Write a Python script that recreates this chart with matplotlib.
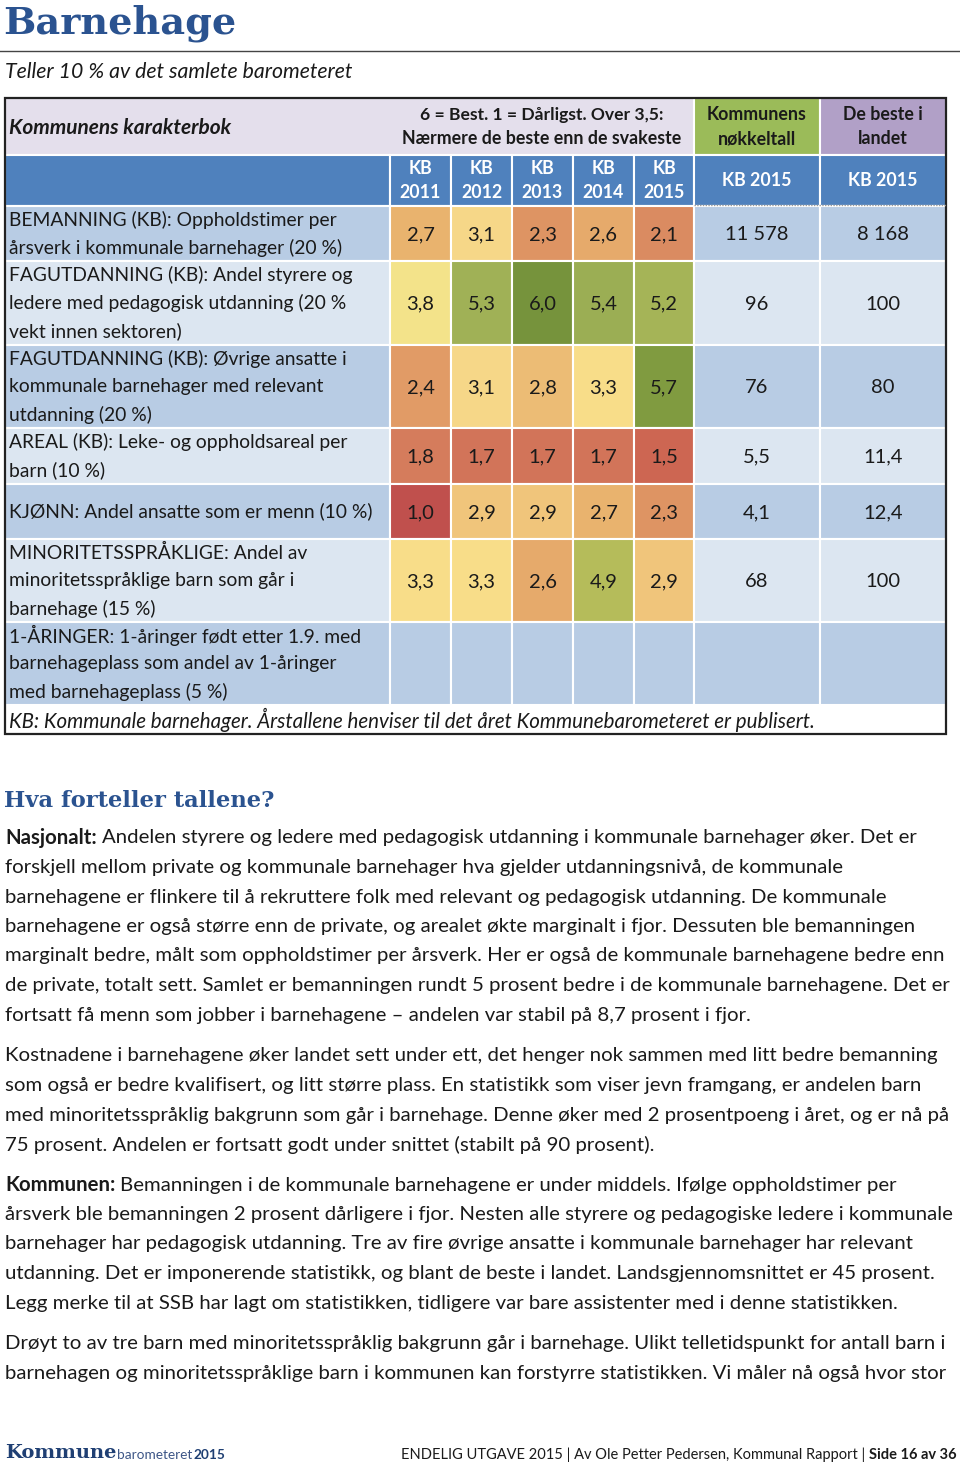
import numpy as np
import matplotlib
matplotlib.use("Agg")
import matplotlib.pyplot as plt
from matplotlib.patches import Rectangle
from matplotlib.colors import LinearSegmentedColormap

# ---- data ----
years = [2011, 2012, 2013, 2014, 2015]
row_labels = [
    ["BEMANNING (KB): Oppholdstimer per", "årsverk i kommunale barnehager (20 %)"],
    ["FAGUTDANNING (KB): Andel styrere og", "ledere med pedagogisk utdanning (20 %", "vekt innen sektoren)"],
    ["FAGUTDANNING (KB): Øvrige ansatte i", "kommunale barnehager med relevant", "utdanning (20 %)"],
    ["AREAL (KB): Leke- og oppholdsareal per", "barn (10 %)"],
    ["KJØNN: Andel ansatte som er menn (10 %)"],
    ["MINORITETSSPRÅKLIGE: Andel av", "minoritetsspråklige barn som går i", "barnehage (15 %)"],
    ["1-ÅRINGER: 1-åringer født etter 1.9. med", "barnehageplass som andel av 1-åringer", "med barnehageplass (5 %)"],
]
grades = [
    [2.7, 3.1, 2.3, 2.6, 2.1],
    [3.8, 5.3, 6.0, 5.4, 5.2],
    [2.4, 3.1, 2.8, 3.3, 5.7],
    [1.8, 1.7, 1.7, 1.7, 1.5],
    [1.0, 2.9, 2.9, 2.7, 2.3],
    [3.3, 3.3, 2.6, 4.9, 2.9],
    [None, None, None, None, None],
]
key_figures = ["11 578", "96", "76", "5,5", "4,1", "68", ""]
best_in_country = ["8 168", "100", "80", "11,4", "12,4", "100", ""]

paragraphs = [
    [("Nasjonalt:", "Andelen styrere og ledere med pedagogisk utdanning i kommunale barnehager øker. Det er"),
     "forskjell mellom private og kommunale barnehager hva gjelder utdanningsnivå, de kommunale",
     "barnehagene er flinkere til å rekruttere folk med relevant og pedagogisk utdanning. De kommunale",
     "barnehagene er også større enn de private, og arealet økte marginalt i fjor. Dessuten ble bemanningen",
     "marginalt bedre, målt som oppholdstimer per årsverk. Her er også de kommunale barnehagene bedre enn",
     "de private, totalt sett. Samlet er bemanningen rundt 5 prosent bedre i de kommunale barnehagene. Det er",
     "fortsatt få menn som jobber i barnehagene – andelen var stabil på 8,7 prosent i fjor."],
    ["Kostnadene i barnehagene øker landet sett under ett, det henger nok sammen med litt bedre bemanning",
     "som også er bedre kvalifisert, og litt større plass. En statistikk som viser jevn framgang, er andelen barn",
     "med minoritetsspråklig bakgrunn som går i barnehage. Denne øker med 2 prosentpoeng i året, og er nå på",
     "75 prosent. Andelen er fortsatt godt under snittet (stabilt på 90 prosent)."],
    [("Kommunen:", "Bemanningen i de kommunale barnehagene er under middels. Ifølge oppholdstimer per"),
     "årsverk ble bemanningen 2 prosent dårligere i fjor. Nesten alle styrere og pedagogiske ledere i kommunale",
     "barnehager har pedagogisk utdanning. Tre av fire øvrige ansatte i kommunale barnehager har relevant",
     "utdanning. Det er imponerende statistikk, og blant de beste i landet. Landsgjennomsnittet er 45 prosent.",
     "Legg merke til at SSB har lagt om statistikken, tidligere var bare assistenter med i denne statistikken."],
    ["Drøyt to av tre barn med minoritetsspråklig bakgrunn går i barnehage. Ulikt telletidspunkt for antall barn i",
     "barnehagen og minoritetsspråklige barn i kommunen kan forstyrre statistikken. Vi måler nå også hvor stor"],
]

# ---- layout / style ----
BODY = "Lato"
SERIF = "DejaVu Serif"
TXT = "#1a1a1a"
TITLE_BLUE = "#2b5390"
HEAD_BLUE = "#4f81bd"
ROW_DARK = "#b8cce4"
ROW_LIGHT = "#dce6f1"

grade_cmap = LinearSegmentedColormap.from_list("grades", [
    (0.0, "#c0504d"), (0.1, "#cd6652"), (0.16, "#d57d5d"), (0.26, "#de9463"),
    (0.34, "#e9b26e"), (0.42, "#f6d788"), (0.48, "#f9e08a"), (0.56, "#f3e38a"),
    (0.78, "#b5bc5a"), (0.88, "#9caf55"), (0.94, "#809b40"), (1.0, "#76933c")])

col_edges = [5, 390, 451, 512, 573, 634, 694, 820, 946]
row_edges = [206, 261, 345, 428, 484, 539, 622, 705]
head_top, head_mid = 98, 155
table_bottom = 734
PARA_SIZE = 14.65

fig = plt.figure(figsize=(9.6, 14.68), dpi=100)
ax = fig.add_axes([0, 0, 1, 1])
ax.set_xlim(0, 960)
ax.set_ylim(1468, 0)
ax.axis("off")


def put(x, y, s, size=14, weight="normal", style="normal", color=TXT, ha="left", family=BODY):
    return ax.text(x, y, s, fontsize=size, fontweight=weight, fontstyle=style, color=color,
                   ha=ha, va="center", family=family)


def cell(x0, x1, y0, y1, color, lw=1.5):
    ax.add_patch(Rectangle((x0, y0), x1 - x0, y1 - y0, facecolor=color, edgecolor="white", lw=lw))


# title block
put(3, 23, "Barnehage", size=27.5, weight="bold", color=TITLE_BLUE, family=SERIF)
ax.plot([0, 960], [51, 51], color="#444444", lw=1)
put(5, 72, "Teller 10 % av det samlete barometeret", size=15.3, style="italic")

# header row 1
cell(col_edges[0], col_edges[6], head_top, head_mid, "#e4dfec")
cell(col_edges[6], col_edges[7], head_top, head_mid, "#9bbb59")
cell(col_edges[7], col_edges[8], head_top, head_mid, "#b1a0c7")
put(9, 128, "Kommunens karakterbok", size=15, weight="bold", style="italic")
mid_years = (col_edges[1] + col_edges[6]) / 2
put(mid_years, 115, "6 = Best. 1 = Dårligst. Over 3,5:", size=12.6, weight="bold", ha="center")
put(mid_years, 139, "Nærmere de beste enn de svakeste", size=12.8, weight="bold", ha="center")
for j, (l1, l2) in enumerate([("Kommunens", "nøkkeltall"), ("De beste i", "landet")]):
    cx = (col_edges[6 + j] + col_edges[7 + j]) / 2
    put(cx, 115, l1, size=12.8, weight="bold", ha="center")
    put(cx, 139, l2, size=12.8, weight="bold", ha="center")

# header row 2
for k in range(len(col_edges) - 1):
    cell(col_edges[k], col_edges[k + 1], head_mid, row_edges[0], HEAD_BLUE)
for k, yr in enumerate(years):
    cx = (col_edges[1 + k] + col_edges[2 + k]) / 2
    put(cx, 168, "KB", size=12.8, weight="bold", color="white", ha="center")
    put(cx, 192, str(yr), size=12.8, weight="bold", color="white", ha="center")
for j in range(2):
    cx = (col_edges[6 + j] + col_edges[7 + j]) / 2
    put(cx, 180, "KB 2015", size=12.8, weight="bold", color="white", ha="center")
ax.plot([col_edges[6], col_edges[8]], [row_edges[0] - 1, row_edges[0] - 1], color="#9a9a9a", lw=1, ls=(0, (1, 1)))

# body rows
for i, labels in enumerate(row_labels):
    y0, y1 = row_edges[i], row_edges[i + 1]
    bg = ROW_DARK if i % 2 == 0 else ROW_LIGHT
    yc = (y0 + y1) / 2
    cell(col_edges[0], col_edges[1], y0, y1, bg)
    n = len(labels)
    for m, line in enumerate(labels):
        put(9, yc + (m - (n - 1) / 2) * 28, line, size=13.9)
    for k, g in enumerate(grades[i]):
        x0, x1 = col_edges[1 + k], col_edges[2 + k]
        if g is None:
            cell(x0, x1, y0, y1, bg)
        else:
            cell(x0, x1, y0, y1, grade_cmap((g - 1) / 5))
            put((x0 + x1) / 2, yc + 1, f"{g:.1f}".replace(".", ","), size=14.5, ha="center")
    for j, vals in enumerate([key_figures, best_in_country]):
        x0, x1 = col_edges[6 + j], col_edges[7 + j]
        cell(x0, x1, y0, y1, bg)
        put((x0 + x1) / 2, yc + 1, vals[i], size=14.5, ha="center")

put(9, 720, "KB: Kommunale barnehager. Årstallene henviser til det året Kommunebarometeret er publisert.",
    size=14.8, style="italic")
ax.add_patch(Rectangle((col_edges[0], head_top), col_edges[-1] - col_edges[0], table_bottom - head_top,
                       facecolor="none", edgecolor="#222222", lw=1.6))

# text section
put(4, 801, "Hva forteller tallene?", size=16.3, weight="bold", color=TITLE_BLUE, family=SERIF)

fig.canvas.draw()
renderer = fig.canvas.get_renderer()
para_starts = [838, 1056, 1185, 1344]
for p, lines in enumerate(paragraphs):
    y = para_starts[p]
    for line in lines:
        if isinstance(line, tuple):
            t = put(5, y, line[0], size=PARA_SIZE, weight="bold")
            w = t.get_window_extent(renderer).x1
            put(w + 5, y, line[1], size=PARA_SIZE)
        else:
            put(5, y, line, size=PARA_SIZE)
        y += 29.5

# footer
t = put(5, 1453, "Kommune", size=14, weight="bold", color="#1f3f73", family=SERIF)
xe = t.get_window_extent(renderer).x1
t = put(xe + 1, 1455, "barometeret", size=9.8, color="#3d5687")
xe = t.get_window_extent(renderer).x1
put(xe + 1, 1455, "2015", size=9.8, weight="bold", color="#1f3f73")
t = put(957, 1455, "Side 16 av 36", size=10.5, weight="bold", ha="right")
xs = t.get_window_extent(renderer).x0
put(xs - 4, 1455, "ENDELIG UTGAVE 2015 | Av Ole Petter Pedersen, Kommunal Rapport |", size=10.5, ha="right")

fig.savefig("out.png", dpi=100)
